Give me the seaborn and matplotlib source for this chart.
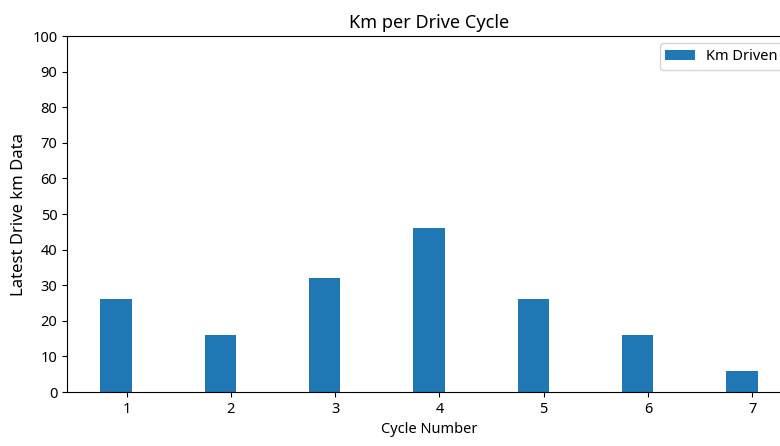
import matplotlib
matplotlib.use("Agg")
import matplotlib.pyplot as plt
import seaborn as sns
import pandas as pd

# drive cycle data
cycles = [1, 2, 3, 4, 5, 6, 7]
km_driven = [26, 16, 32, 46, 26, 16, 6]
series_name = "Km Driven"

plt.rcParams["font.family"] = ["Noto Sans", "DejaVu Sans"]

df = pd.DataFrame({
    "cycle": [c - 0.1 for c in cycles],  # bars sit slightly left of the tick
    "km": km_driven,
    "series": series_name,
})

fig = plt.figure(figsize=(7.8, 4.46), dpi=100)
# the original chart is cropped on the right, so the axes run past the edge
ax = fig.add_axes([0.086, 0.121, 0.928, 0.798])

sns.barplot(
    data=df, x="cycle", y="km", hue="series",
    native_scale=True, width=0.3, saturation=1,
    palette=["#1f77b4"], linewidth=0, ax=ax,
)

ax.set_xticks(cycles)
ax.set_xticklabels([str(c) for c in cycles])
ax.set_ylim(0, 100)
ax.set_yticks(range(0, 101, 10))
ax.set_xlim(0.43, 7.37)
ax.tick_params(axis="both", labelsize=10.5)

ax.set_title("Km per Drive Cycle", fontsize=13)
ax.set_xlabel("Cycle Number", fontsize=10.5)
ax.set_ylabel("Latest Drive km Data", fontsize=12)
ax.legend(loc="upper right", fontsize=10.5, title=None)

fig.savefig("out.png", dpi=100)
